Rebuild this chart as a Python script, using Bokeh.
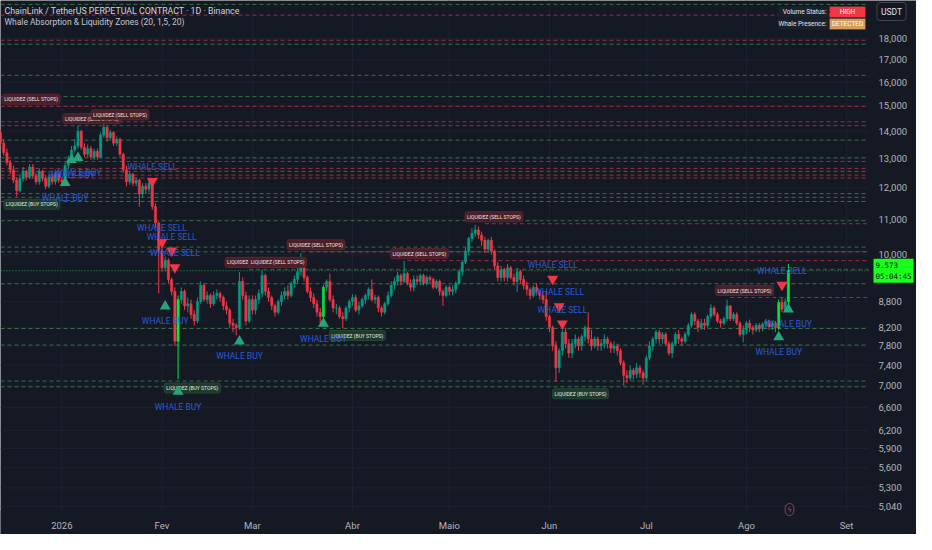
from datetime import date
import math
import numpy as np
from bokeh.plotting import figure
from bokeh.models import ColumnDataSource, Range1d, Label, BoxAnnotation
from bokeh.core.properties import value
from bokeh.embed import file_html
from bokeh.resources import INLINE

# ---------------- data ----------------
START = date(2025, 12, 13)          # first daily candle
first_open = 13.95

close = [
    13.55, 13.20, 12.85, 12.60, 12.25, 11.90, 12.30, 12.55, 12.35, 12.70,
    12.40, 12.20, 12.55, 12.30, 12.05, 12.35, 12.20, 12.45, 12.25, 12.20,
    12.75, 12.95, 13.30, 13.45, 14.00, 13.40, 13.15, 13.35, 13.05, 13.25,
    13.05, 13.85, 14.15, 13.75, 13.95, 13.55, 13.70, 13.15, 12.60, 12.20,
    12.45, 12.15, 12.25, 11.80, 12.05, 11.95, 12.15, 11.40, 10.90, 10.10,
    9.65, 9.85, 9.35, 9.05, 7.90, 8.85, 9.05, 8.70, 8.75, 8.50,
    8.35, 8.80, 9.20, 8.85, 8.95, 8.75, 8.95, 9.00, 8.90, 8.70,
    8.60, 8.30, 8.25, 8.20, 9.30, 8.95, 8.35, 8.85, 8.60, 8.85,
    9.00, 9.45, 9.05, 8.90, 8.70, 8.55, 8.80, 8.95, 9.05, 8.95,
    9.25, 9.35, 9.55, 9.80, 9.40, 9.05, 8.90, 8.75, 8.55, 8.45,
    9.15, 9.30, 8.85, 8.65, 8.65, 8.45, 8.40, 8.65, 8.80, 8.90,
    8.60, 8.70, 8.85, 8.95, 9.10, 8.85, 8.90, 8.65, 8.55, 8.75,
    8.95, 9.20, 9.30, 9.45, 9.30, 9.50, 9.25, 9.15, 9.35, 9.30,
    9.45, 9.25, 9.40, 9.35, 9.15, 9.30, 9.05, 8.95, 9.15, 9.05,
    9.10, 9.25, 9.55, 9.80, 10.10, 10.45, 10.60, 10.70, 10.55, 10.40,
    10.15, 10.40, 10.10, 9.70, 9.40, 9.60, 9.40, 9.65, 9.40, 9.30,
    9.55, 9.35, 9.20, 9.10, 8.95, 9.15, 9.05, 8.95, 8.85, 8.45,
    8.20, 7.80, 7.35, 7.70, 8.10, 7.85, 7.65, 7.85, 7.95, 7.80,
    8.00, 8.20, 7.95, 7.80, 7.95, 7.80, 7.85, 7.95, 7.85, 7.75,
    7.80, 7.70, 7.45, 7.20, 7.15, 7.30, 7.22, 7.35, 7.25, 7.15,
    7.55, 7.80, 7.95, 8.10, 7.95, 8.05, 7.85, 7.65, 7.85, 8.05,
    7.95, 7.90, 8.05, 8.25, 8.50, 8.35, 8.20, 8.30, 8.25, 8.45,
    8.65, 8.50, 8.35, 8.30, 8.40, 8.70, 8.40, 8.50, 8.30, 8.05,
    8.15, 8.30, 8.20, 8.15, 8.25, 8.18, 8.28, 8.35, 8.22, 8.30,
    8.20, 8.78, 8.62, 8.80, 9.573,
]
high = [
    14.05, 13.70, 13.35, 12.95, 12.75, 12.35, 12.45, 12.70, 12.60, 12.80,
    12.80, 12.50, 12.65, 12.60, 12.40, 12.45, 12.45, 12.55, 12.50, 12.35,
    12.85, 13.10, 13.45, 13.70, 14.20, 14.05, 13.55, 13.50, 13.45, 13.35,
    13.35, 13.95, 14.36, 14.20, 14.05, 14.00, 13.80, 13.75, 13.20, 12.75,
    12.55, 12.50, 12.35, 12.30, 12.15, 12.15, 12.25, 12.20, 11.50, 10.95,
    10.20, 9.95, 9.90, 9.40, 9.15, 8.95, 9.15, 9.10, 8.90, 8.85,
    8.60, 8.90, 9.30, 9.25, 9.05, 9.00, 9.05, 9.10, 9.05, 8.95,
    8.80, 8.65, 8.40, 8.30, 9.54, 9.40, 9.05, 8.95, 8.95, 8.95,
    9.10, 9.60, 9.50, 9.15, 8.95, 8.75, 8.85, 9.05, 9.15, 9.20,
    9.30, 9.45, 9.65, 10.05, 9.85, 9.45, 9.15, 9.00, 8.85, 8.65,
    9.20, 9.35, 9.50, 8.95, 8.75, 8.70, 8.55, 8.70, 8.85, 8.98,
    8.97, 8.80, 8.90, 9.00, 9.15, 9.35, 8.97, 8.95, 8.70, 8.80,
    9.05, 9.30, 9.40, 9.55, 9.50, 9.84, 9.55, 9.35, 9.45, 9.45,
    9.50, 9.50, 9.45, 9.45, 9.40, 9.35, 9.35, 9.10, 9.20, 9.20,
    9.20, 9.30, 9.60, 9.85, 10.20, 10.50, 10.75, 10.85, 10.80, 10.65,
    10.50, 10.45, 10.50, 10.15, 9.80, 9.70, 9.65, 9.75, 9.70, 9.50,
    9.65, 9.60, 9.45, 9.30, 9.15, 9.20, 9.25, 9.10, 9.05, 9.05,
    8.50, 8.25, 7.90, 7.75, 8.15, 8.20, 7.95, 7.95, 8.05, 8.00,
    8.05, 8.25, 8.55, 8.15, 8.00, 8.00, 7.95, 8.05, 8.00, 7.90,
    7.90, 7.85, 7.75, 7.50, 7.30, 7.40, 7.35, 7.45, 7.40, 7.30,
    7.60, 7.90, 8.00, 8.15, 8.15, 8.10, 8.10, 7.90, 7.90, 8.10,
    8.15, 8.00, 8.10, 8.30, 8.55, 8.55, 8.40, 8.40, 8.40, 8.50,
    8.74, 8.70, 8.55, 8.40, 8.45, 8.85, 8.72, 8.55, 8.55, 8.35,
    8.25, 8.35, 8.38, 8.25, 8.30, 8.30, 8.32, 8.40, 8.38, 8.35,
    8.35, 8.85, 8.90, 8.88, 9.75,
]
low = [
    13.45, 13.10, 12.75, 12.45, 12.15, 11.72, 11.85, 12.20, 12.25, 12.30,
    12.30, 12.10, 12.10, 12.20, 11.95, 11.98, 12.10, 12.10, 12.15, 12.05,
    12.15, 12.60, 12.85, 13.20, 13.35, 13.30, 13.05, 13.05, 12.95, 12.95,
    12.95, 13.00, 13.75, 13.60, 13.65, 13.45, 13.45, 13.05, 12.50, 12.05,
    12.10, 12.05, 12.05, 11.40, 11.70, 11.80, 11.85, 11.30, 10.75, 9.00,
    9.55, 9.55, 9.25, 8.95, 7.80, 7.13, 8.75, 8.60, 8.55, 8.40,
    8.25, 8.30, 8.75, 8.80, 8.75, 8.65, 8.70, 8.85, 8.80, 8.60,
    8.50, 8.20, 8.10, 8.03, 8.15, 8.85, 8.25, 8.30, 8.50, 8.50,
    8.75, 8.90, 8.95, 8.80, 8.60, 8.45, 8.50, 8.70, 8.85, 8.85,
    8.90, 9.15, 9.25, 9.45, 9.30, 9.00, 8.80, 8.65, 8.45, 8.30,
    8.40, 9.05, 8.80, 8.55, 8.50, 8.40, 8.18, 8.35, 8.55, 8.70,
    8.55, 8.50, 8.65, 8.75, 8.85, 8.80, 8.75, 8.55, 8.45, 8.50,
    8.70, 8.90, 9.10, 9.20, 9.20, 9.25, 9.20, 9.05, 9.05, 9.20,
    9.20, 9.20, 9.20, 9.25, 9.10, 9.10, 8.95, 8.70, 8.90, 8.95,
    8.95, 9.00, 9.20, 9.45, 9.75, 10.00, 10.35, 10.50, 10.45, 10.25,
    10.05, 10.05, 10.00, 9.60, 9.30, 9.30, 9.30, 9.30, 9.35, 9.20,
    9.04, 9.25, 9.10, 8.95, 8.85, 8.90, 8.95, 8.85, 8.75, 8.35,
    8.10, 7.70, 7.08, 7.25, 7.60, 7.75, 7.55, 7.55, 7.75, 7.70,
    7.70, 7.90, 7.85, 7.70, 7.75, 7.70, 7.70, 7.75, 7.75, 7.65,
    7.65, 7.60, 7.40, 7.00, 7.05, 7.10, 7.12, 7.15, 7.15, 7.02,
    7.10, 7.50, 7.70, 7.85, 7.85, 7.85, 7.80, 7.60, 7.55, 7.80,
    7.85, 7.80, 7.85, 8.00, 8.20, 8.25, 8.10, 8.15, 8.15, 8.20,
    8.40, 8.45, 8.30, 8.20, 8.25, 8.35, 8.35, 8.35, 8.25, 8.00,
    7.88, 8.05, 8.10, 8.05, 8.10, 8.10, 8.12, 8.20, 8.15, 8.15,
    8.10, 8.15, 8.55, 8.55, 8.70,
]
spike_days = [55, 100, 241, 244]            # high-volume (lime) candles

sell_days = [47, 50, 53, 54, 171, 173, 174, 242]
sell_levels = [12.22, 10.35, 10.11, 9.66, 9.36, 8.69, 8.29, 9.21]
buy_days = [20, 22, 24, 51, 55, 74, 100, 241, 244]
buy_levels = [12.16, 12.95, 13.02, 8.69, 6.89, 7.90, 8.29, 7.99, 8.62]

liq_levels = [19.77, 19.20, 17.93, 17.74, 16.30, 15.38, 14.98, 14.36, 14.21, 13.66,
              13.02, 12.89, 12.65, 12.55, 12.42, 12.32, 11.81, 11.69, 11.56, 10.97,
              10.88, 10.21, 10.08, 10.08, 9.84, 9.61, 9.24, 8.90, 8.18, 7.82,
              7.09, 6.98]
liq_kinds = ["b", "s", "s", "b", "b", "b", "s", "s", "s", "b",
             "b", "s", "s", "b", "s", "s", "b", "b", "b", "b",
             "s", "b", "b", "s", "s", "s", "b", "s", "b", "b",
             "b", "b"]
liq_from = [0, 0, 0, 0, 0, 0, 0, 0, 0, 0,
            0, 0, 0, 0, 0, 0, 0, 0, 0, 0,
            150, 0, 0, 96, 126, 77, 0, 226, 0, 0,
            0, 0]

sellstop_days = [9.5, 28.3, 37, 78.5, 85.8, 97.7, 129.7, 152.8, 230.4]
sellstop_levels = [14.98, 14.21, 14.36, 9.61, 9.61, 10.08, 9.84, 10.88, 8.90]
buystop_days = [9.7, 59.4, 110.5, 179.6]
buystop_levels = [11.69, 7.09, 8.18, 6.98]

month_starts = [date(2026, m, 1) for m in range(1, 10)]
month_labels = ["2026", "Fev", "Mar", "Abr", "Maio", "Jun", "Jul", "Ago", "Set"]

y_ticks = [18, 17, 16, 15, 14, 13, 12, 11, 10, 8.8, 8.2, 7.8, 7.4, 7.0,
           6.6, 6.2, 5.9, 5.6, 5.3, 5.04]
y_tick_labels = ["18,000", "17,000", "16,000", "15,000", "14,000", "13,000",
                 "12,000", "11,000", "10,000", "8,800", "8,200", "7,800",
                 "7,400", "7,000", "6,600", "6,200", "5,900", "5,600",
                 "5,300", "5,040"]
last_price_text = "9.573\n05:04:45"

# ---------------- layout / styling ----------------
BG = "#151924"
GRID = "#1e2230"
UP = "#089981"
DOWN = "#f23645"
LIME = "#00e640"
AXIS_TXT = "#b2b5be"
W, H = 916, 534
TIME_H = 20                 # time scale strip at the bottom
CHART_W = 868               # candle area width; the price scale lives to its right
DAY_END = 268.8             # last day visible in the candle area
X_END = DAY_END * W / CHART_W
P_TOP, P_LOW = 19.98, 4.93  # prices at the top / bottom of the candle area
P_MIN = P_LOW * math.exp(-TIME_H / (H - TIME_H) * math.log(P_TOP / P_LOW))

p = figure(width=W, height=H, y_axis_type="log", y_axis_location=None,
           x_axis_location=None,
           x_range=Range1d(0, X_END), y_range=Range1d(P_MIN, P_TOP),
           output_backend="svg", toolbar_location=None,
           min_border_left=0, min_border_top=0, min_border_right=0,
           min_border_bottom=0)
p.background_fill_color = BG
p.background_fill_alpha = 1
p.border_fill_color = BG
p.border_fill_alpha = 1
p.outline_line_color = None
p.xgrid.grid_line_color = None
p.ygrid.grid_line_color = None

month_days = [(d - START).days for d in month_starts]

# grid (candle area only)
n_t = len(y_ticks)
p.segment(x0=[0] * n_t, y0=y_ticks, x1=[DAY_END] * n_t, y1=y_ticks,
          line_color=GRID, line_width=1)
n_m = len(month_days)
p.segment(x0=month_days, y0=[P_LOW] * n_m, x1=month_days, y1=[P_TOP] * n_m,
          line_color=GRID, line_width=1)

# liquidity zone lines
kind_color = {"s": "#c8354a", "b": "#3f8f55"}
n_l = len(liq_levels)
p.segment(x0=liq_from, y0=liq_levels, x1=[DAY_END] * n_l, y1=liq_levels,
          line_color=[kind_color[k] for k in liq_kinds], line_alpha=0.75,
          line_width=1, line_dash="4 3")

# current price line
p.segment(x0=[0], y0=[close[-1]], x1=[DAY_END], y1=[close[-1]],
          line_color="#1fd65a", line_alpha=0.75, line_dash="1 2", line_width=1)

# candles
c = np.array(close)
o = np.array([first_open] + close[:-1])
h = np.maximum(np.array(high), np.maximum(o, c))
l = np.minimum(np.array(low), np.minimum(o, c))
days = np.arange(len(close))
colors = [UP if cc >= oo else DOWN for oo, cc in zip(o, c)]
for d in spike_days:
    colors[d] = LIME
src = ColumnDataSource(dict(x=days, h=h, l=l, top=np.maximum(o, c),
                            bottom=np.minimum(o, c), color=colors))
p.segment(x0="x", y0="h", x1="x", y1="l", line_color="color", line_width=1, source=src)
p.vbar(x="x", width=0.7, top="top", bottom="bottom", fill_color="color",
       line_color="color", line_width=0.5, source=src)

# liquidity labels
p.text(x=sellstop_days, y=sellstop_levels, text=["LIQUIDEZ (SELL STOPS)"] * len(sellstop_days),
       y_offset=-7, text_align="center", text_baseline="middle",
       text_font=value("Roboto"), text_font_size="5px", text_color="#e6e6e6",
       background_fill_color="#4a1f29", border_line_color="#5a2630",
       padding=2, border_radius=2)
p.text(x=buystop_days, y=buystop_levels, text=["LIQUIDEZ (BUY STOPS)"] * len(buystop_days),
       y_offset=7, text_align="center", text_baseline="middle",
       text_font=value("Roboto"), text_font_size="5px", text_color="#e6e6e6",
       background_fill_color="#1d3a2b", border_line_color="#244634",
       padding=2, border_radius=2)

# whale signals
p.scatter(x=sell_days, y=sell_levels, marker="inverted_triangle", size=11,
          fill_color="#f23645", line_color=None)
p.scatter(x=buy_days, y=buy_levels, marker="triangle", size=11,
          fill_color="#27a47a", line_color=None)
p.text(x=sell_days, y=sell_levels, text=["WHALE SELL"] * len(sell_days), y_offset=-14,
       text_align="center", text_baseline="middle", text_font=value("Roboto"),
       text_font_size="8.5px", text_color="#2a5bd7")
p.text(x=buy_days, y=buy_levels, text=["WHALE BUY"] * len(buy_days), y_offset=15,
       text_align="center", text_baseline="middle", text_font=value("Roboto"),
       text_font_size="8.5px", text_color="#2a5bd7")

# solid background for the time scale strip
p.add_layout(BoxAnnotation(left=0, right=W, bottom=0, top=TIME_H + 4,
                           left_units="screen", right_units="screen",
                           top_units="screen", bottom_units="screen",
                           fill_color=BG, fill_alpha=1, line_color=None))

# price scale labels (right of the candle area)
for t, lab in zip(y_ticks, y_tick_labels):
    p.add_layout(Label(x=CHART_W + 10, y=t, x_units="screen", y_units="data", text=lab,
                       text_align="left", text_baseline="middle", text_font="Roboto",
                       text_font_size="9.5px", text_color=AXIS_TXT))

# time scale labels (below the candle area)
for d, lab in zip(month_days, month_labels):
    p.add_layout(Label(x=d, y=TIME_H / 2 - 1, x_units="data", y_units="screen", text=lab,
                       text_align="center", text_baseline="middle", text_font="Roboto",
                       text_font_size="9.5px", text_color=AXIS_TXT))

# last price tag
p.add_layout(Label(x=CHART_W + 5, y=close[-1], x_units="screen", y_units="data",
                   text=last_price_text, text_align="left", text_baseline="middle",
                   text_font="DejaVu Sans Mono", text_font_size="7.5px", text_color="#0b0f14",
                   background_fill_color="#1aff1a", padding=2))

# currency box
p.add_layout(Label(x=CHART_W + 23, y=H - 11, x_units="screen", y_units="screen", text="USDT",
                   text_align="center", text_baseline="middle", text_font="Roboto",
                   text_font_size="8.5px", text_color="#e0e3eb",
                   background_fill_color="#131722", border_line_color="#434651",
                   padding=4, border_radius=3))

# legend texts
p.add_layout(Label(x=4, y=H - 10, x_units="screen", y_units="screen",
                   text="ChainLink / TetherUS PERPETUAL CONTRACT · 1D · Binance",
                   text_baseline="middle", text_font="Roboto", text_font_size="8.8px",
                   text_color="#d1d4dc"))
p.add_layout(Label(x=4, y=H - 21, x_units="screen", y_units="screen",
                   text="Whale Absorption & Liquidity Zones (20, 1,5, 20)",
                   text_baseline="middle", text_font="Roboto", text_font_size="8.5px",
                   text_color="#c3c6ce"))

# status table
rows = [("Volume Status:", "HIGH", "#f23645"), ("Whale Presence:", "DETECTED", "#d49c5c")]
for i, (lab, val, col) in enumerate(rows):
    top = H - 6 - 12 * i
    p.add_layout(BoxAnnotation(left=CHART_W - 91, right=CHART_W - 40, top=top, bottom=top - 11,
                               left_units="screen", right_units="screen",
                               top_units="screen", bottom_units="screen",
                               fill_color="#1c202b", fill_alpha=1, line_color=None))
    p.add_layout(BoxAnnotation(left=CHART_W - 39, right=CHART_W - 3, top=top, bottom=top - 11,
                               left_units="screen", right_units="screen",
                               top_units="screen", bottom_units="screen",
                               fill_color=col, fill_alpha=1, line_color="#2a2e39"))
    p.add_layout(Label(x=CHART_W - 42, y=top - 5.5, x_units="screen", y_units="screen",
                       text=lab, text_align="right", text_baseline="middle",
                       text_font="Roboto", text_font_size="6.5px", text_color="#e0e3eb"))
    p.add_layout(Label(x=CHART_W - 21, y=top - 5.5, x_units="screen", y_units="screen",
                       text=val, text_align="center", text_baseline="middle",
                       text_font="Roboto", text_font_size="6.5px", text_color="#ffffff"))

# lightning icon
p.add_layout(Label(x=789, y=TIME_H + 5, x_units="screen", y_units="screen", text="ϟ",
                   text_align="center", text_baseline="middle", text_font="DejaVu Sans",
                   text_font_size="7px", text_color="#c0506e",
                   border_line_color="#9c3c58", padding=2, border_radius=7))

open("out.html", "w").write(file_html(p, INLINE))
